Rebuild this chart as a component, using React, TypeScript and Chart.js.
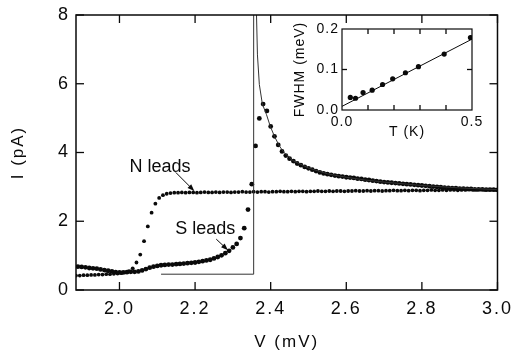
import React, { useEffect, useRef } from "react";
import { Chart, registerables } from "chart.js";

Chart.register(...registerables);

const FONT = "'Liberation Sans', Arial, Helvetica, sans-serif";
const INK = "#0a0a0a";

// ---------- main panel ----------
const X_MIN = 1.885;
const X_MAX = 3.0;
const Y_MIN = 0;
const Y_MAX = 8;
const X_TICKS = [2.0, 2.2, 2.4, 2.6, 2.8, 3.0];
const Y_TICKS = [0, 2, 4, 6, 8];

// N leads sweep (V grid start / step, current in pA)
const N_V_START = 1.885;
const N_V_STEP = 0.01;
const N_LEADS_I = [
  0.42, 0.42, 0.43, 0.43, 0.44, 0.44, 0.45, 0.45, 0.46, 0.46,
  0.47, 0.48, 0.49, 0.51, 0.55, 0.63, 0.8, 1.03, 1.42, 1.85,
  2.25, 2.51, 2.68, 2.76, 2.8, 2.82, 2.83, 2.83, 2.84, 2.83,
  2.84, 2.84, 2.83, 2.84, 2.85, 2.84, 2.84, 2.85, 2.84, 2.85,
  2.85, 2.84, 2.85, 2.85, 2.86, 2.85, 2.85, 2.86, 2.85, 2.86,
  2.86, 2.85, 2.86, 2.86, 2.87, 2.86, 2.86, 2.87, 2.86, 2.87,
  2.87, 2.86, 2.87, 2.87, 2.88, 2.87, 2.87, 2.88, 2.87, 2.88,
  2.88, 2.87, 2.88, 2.88, 2.89, 2.88, 2.88, 2.89, 2.88, 2.89,
  2.89, 2.88, 2.89, 2.89, 2.9, 2.89, 2.89, 2.9, 2.89, 2.9,
  2.9, 2.89, 2.9, 2.9, 2.91, 2.9, 2.9, 2.91, 2.9, 2.91,
  2.91, 2.9, 2.91, 2.91, 2.92, 2.91, 2.91, 2.92, 2.91, 2.92,
  2.92, 2.91,
];

// S leads sweep
const S_V_START = 1.89;
const S_V_STEP = 0.01;
const S_LEADS_I = [
  0.68, 0.67, 0.66, 0.64, 0.63, 0.62, 0.6, 0.58, 0.56, 0.54,
  0.52, 0.51, 0.51, 0.52, 0.53, 0.53, 0.54, 0.57, 0.61, 0.65,
  0.68, 0.7, 0.72, 0.73, 0.74, 0.74, 0.75, 0.76, 0.77, 0.78,
  0.79, 0.8, 0.82, 0.84, 0.86, 0.88, 0.92, 0.96, 1.01, 1.07,
  1.14, 1.24, 1.34, 1.51, 1.8, 2.34, 3.08, 4.19, 4.99, 5.41,
  5.21, 4.76, 4.47, 4.22, 4.03, 3.91, 3.82, 3.75, 3.68, 3.63,
  3.58, 3.54, 3.5, 3.46, 3.42, 3.39, 3.37, 3.35, 3.33, 3.31,
  3.3, 3.28, 3.27, 3.26, 3.24, 3.23, 3.21, 3.2, 3.18, 3.17,
  3.15, 3.14, 3.13, 3.12, 3.11, 3.1, 3.09, 3.08, 3.07, 3.06,
  3.05, 3.04, 3.03, 3.02, 3.01, 3.0, 2.99, 2.98, 2.97, 2.96,
  2.96, 2.95, 2.95, 2.94, 2.94, 2.93, 2.93, 2.93, 2.92, 2.92,
  2.92, 2.91,
];

// thin theory line
const THEORY_V = [2.11, 2.355, 2.355, 2.361, 2.3625, 2.365, 2.37, 2.378, 2.389, 2.399, 2.41, 2.423, 2.436, 2.46, 2.5, 2.55, 2.6, 2.65, 2.7, 2.8, 2.9, 3.0];
const THEORY_I = [0.46, 0.46, 9, 9, 8.0, 6.84, 5.98, 5.41, 5.1, 4.76, 4.47, 4.19, 3.99, 3.76, 3.55, 3.38, 3.28, 3.2, 3.14, 3.04, 2.97, 2.92];

// annotations (data coordinates)
const N_LABEL = { text: "N leads", v: 2.107, i: 3.59 };
const S_LABEL = { text: "S leads", v: 2.227, i: 1.77 };
const N_ARROW = { v1: 2.149, i1: 3.42, v2: 2.198, i2: 2.88 };
const S_ARROW = { v1: 2.256, i1: 1.48, v2: 2.287, i2: 1.16 };

// ---------- inset ----------
const INSET_T = [0.032, 0.052, 0.081, 0.116, 0.156, 0.195, 0.244, 0.294, 0.393, 0.494];
const INSET_FWHM = [0.031, 0.029, 0.043, 0.049, 0.063, 0.077, 0.092, 0.107, 0.138, 0.179];
const FIT_T = [0, 0.5];
const FIT_FWHM = [0.009, 0.175];
const INSET_X_LABELS = [0, 0.5];
const INSET_X_MARKS = [0.1, 0.2, 0.3, 0.4];
const INSET_Y_LABELS = [0, 0.1, 0.2];
const INSET_Y_MARKS = [0.1];

function framePlugin(id: string, xMarks: number[], yMarks: number[], len: number, lw: number, spacing: string, extra?: (c: any) => void) {
  return {
    id,
    beforeDraw(chart: any) {
      (chart.ctx as any).letterSpacing = spacing;
    },
    afterDraw(chart: any) {
      const ctx = chart.ctx as CanvasRenderingContext2D;
      (ctx as any).letterSpacing = "0px";
      const area = chart.chartArea;
      const left = area.left, right = area.right, top = area.top, bottom = area.bottom;
      const xs = chart.scales.x;
      const ys = chart.scales.y;
      ctx.save();
      ctx.fillStyle = INK;
      const tw = 1.3;
      xMarks.forEach((v) => {
        const px = xs.getPixelForValue(v);
        ctx.fillRect(px - tw / 2, bottom - len, tw, len);
        ctx.fillRect(px - tw / 2, top, tw, len);
      });
      yMarks.forEach((v) => {
        const py = ys.getPixelForValue(v);
        ctx.fillRect(left, py - tw / 2, len, tw);
        ctx.fillRect(right - len, py - tw / 2, len, tw);
      });
      ctx.strokeStyle = INK;
      ctx.lineWidth = lw;
      ctx.strokeRect(left, top, right - left, bottom - top);
      ctx.restore();
      if (extra) extra(chart);
    },
  };
}

function drawArrow(ctx: CanvasRenderingContext2D, x1: number, y1: number, x2: number, y2: number) {
  const ang = Math.atan2(y2 - y1, x2 - x1);
  const hl = 7;
  const hw = 2.6;
  ctx.beginPath();
  ctx.moveTo(x1, y1);
  ctx.lineTo(x2 - Math.cos(ang) * hl * 0.7, y2 - Math.sin(ang) * hl * 0.7);
  ctx.stroke();
  ctx.beginPath();
  ctx.moveTo(x2, y2);
  ctx.lineTo(x2 - hl * Math.cos(ang) + hw * Math.sin(ang), y2 - hl * Math.sin(ang) - hw * Math.cos(ang));
  ctx.lineTo(x2 - hl * Math.cos(ang) - hw * Math.sin(ang), y2 - hl * Math.sin(ang) + hw * Math.cos(ang));
  ctx.closePath();
  ctx.fill();
}

function mainAnnotations(chart: any) {
  const ctx = chart.ctx as CanvasRenderingContext2D;
  const xs = chart.scales.x;
  const ys = chart.scales.y;
  ctx.save();
  ctx.fillStyle = INK;
  ctx.strokeStyle = INK;
  ctx.lineWidth = 1;
  ctx.font = `18px ${FONT}`;
  ctx.textAlign = "center";
  ctx.textBaseline = "middle";
  [N_LABEL, S_LABEL].forEach((l) => {
    ctx.fillText(l.text, xs.getPixelForValue(l.v), ys.getPixelForValue(l.i));
  });
  [N_ARROW, S_ARROW].forEach((a) => {
    drawArrow(ctx, xs.getPixelForValue(a.v1), ys.getPixelForValue(a.i1), xs.getPixelForValue(a.v2), ys.getPixelForValue(a.i2));
  });
  ctx.restore();
}

function MainChart() {
  const ref = useRef<HTMLCanvasElement | null>(null);
  useEffect(() => {
    if (!ref.current) return;
    const nData = N_LEADS_I.map((i, k) => ({ x: N_V_START + N_V_STEP * k, y: i }));
    const sData = S_LEADS_I.map((i, k) => ({ x: S_V_START + S_V_STEP * k, y: i }));
    const tData = THEORY_V.map((v, k) => ({ x: v, y: THEORY_I[k] }));
    const tickFont = { family: FONT, size: 18, lineHeight: 1 };
    const chart = new Chart(ref.current, {
      type: "line",
      data: {
        datasets: [
          { label: "theory", data: tData, borderColor: "#333", borderWidth: 1, pointRadius: 0, tension: 0, fill: false },
          { label: "N leads", data: nData, showLine: false, pointRadius: 1.9, pointBorderWidth: 0, pointBackgroundColor: INK, borderColor: INK },
          { label: "S leads", data: sData, showLine: false, pointRadius: 2.4, pointBorderWidth: 0, pointBackgroundColor: INK, borderColor: INK },
        ],
      },
      options: {
        responsive: false,
        animation: false,
        devicePixelRatio: 1,
        events: [],
        layout: { padding: { left: 0, top: 9, right: 17, bottom: 0 } },
        plugins: { legend: { display: false }, tooltip: { enabled: false } },
        scales: {
          x: {
            type: "linear",
            min: X_MIN,
            max: X_MAX,
            afterBuildTicks: (s: any) => {
              s.ticks = X_TICKS.map((value) => ({ value }));
            },
            afterFit: (s: any) => {
              s.height = 64;
            },
            grid: { display: false, drawTicks: false },
            border: { display: false },
            ticks: {
              autoSkip: false,
              maxRotation: 0,
              padding: 10,
              color: INK,
              font: tickFont,
              callback: (v: any) => Number(v).toFixed(1),
            },
            title: { display: true, text: "V (mV)", color: INK, font: { family: FONT, size: 17 }, padding: { top: 0, bottom: 1 } },
          },
          y: {
            type: "linear",
            min: Y_MIN,
            max: Y_MAX,
            afterBuildTicks: (s: any) => {
              s.ticks = Y_TICKS.map((value) => ({ value }));
            },
            afterFit: (s: any) => {
              s.width = 76;
            },
            grid: { display: false, drawTicks: false },
            border: { display: false },
            ticks: {
              autoSkip: false,
              padding: 6,
              color: INK,
              font: tickFont,
              callback: (v: any) => String(v),
            },
            title: { display: true, text: "I (pA)", color: INK, font: { family: FONT, size: 17 }, padding: { top: 8, bottom: 0 } },
          },
        },
      },
      plugins: [framePlugin("mainFrame", X_TICKS, Y_TICKS, 8, 1.5, "2px", mainAnnotations)],
    } as any);
    return () => chart.destroy();
  }, []);
  return <canvas ref={ref} width={520} height={354} style={{ display: "block", position: "absolute", left: 0, top: 0 }} />;
}

function InsetChart() {
  const ref = useRef<HTMLCanvasElement | null>(null);
  useEffect(() => {
    if (!ref.current) return;
    const pts = INSET_T.map((t, k) => ({ x: t, y: INSET_FWHM[k] }));
    const fit = FIT_T.map((t, k) => ({ x: t, y: FIT_FWHM[k] }));
    const tickFont = { family: FONT, size: 14, lineHeight: 1 };
    const chart = new Chart(ref.current, {
      type: "line",
      data: {
        datasets: [
          { label: "fit", data: fit, borderColor: INK, borderWidth: 1, pointRadius: 0, tension: 0 },
          { label: "FWHM", data: pts, showLine: false, pointRadius: 2.6, pointBorderWidth: 0, pointBackgroundColor: INK, borderColor: INK },
        ],
      },
      options: {
        responsive: false,
        animation: false,
        devicePixelRatio: 1,
        events: [],
        layout: { padding: { left: 0, top: 14, right: 18, bottom: 0 } },
        plugins: { legend: { display: false }, tooltip: { enabled: false } },
        scales: {
          x: {
            type: "linear",
            min: 0,
            max: 0.5,
            afterBuildTicks: (s: any) => {
              s.ticks = INSET_X_LABELS.map((value) => ({ value }));
            },
            afterFit: (s: any) => {
              s.height = 35;
            },
            grid: { display: false, drawTicks: false },
            border: { display: false },
            ticks: { autoSkip: false, maxRotation: 0, padding: 5, color: INK, font: tickFont, callback: (v: any) => Number(v).toFixed(1) },
            title: { display: true, text: "T (K)", color: INK, font: { family: FONT, size: 14 }, padding: { top: 0, bottom: 4 } },
          },
          y: {
            type: "linear",
            min: 0,
            max: 0.2,
            afterBuildTicks: (s: any) => {
              s.ticks = INSET_Y_LABELS.map((value) => ({ value }));
            },
            afterFit: (s: any) => {
              s.width = 52;
            },
            grid: { display: false, drawTicks: false },
            border: { display: false },
            ticks: { autoSkip: false, padding: 3, color: INK, font: tickFont, callback: (v: any) => Number(v).toFixed(1) },
            title: { display: true, text: "FWHM (meV)", color: INK, font: { family: FONT, size: 14 }, padding: { top: 2, bottom: 0 } },
          },
        },
      },
      plugins: [framePlugin("insetFrame", INSET_X_MARKS, INSET_Y_MARKS, 5, 1.2, "1px")],
    } as any);
    return () => chart.destroy();
  }, []);
  return <canvas ref={ref} width={200} height={130} style={{ display: "block", position: "absolute", left: 290, top: 15 }} />;
}

export default function App() {
  return (
    <div style={{ position: "absolute", left: 0, top: 0, width: 520, height: 354, background: "#fff" }}>
      <MainChart />
      <InsetChart />
    </div>
  );
}
